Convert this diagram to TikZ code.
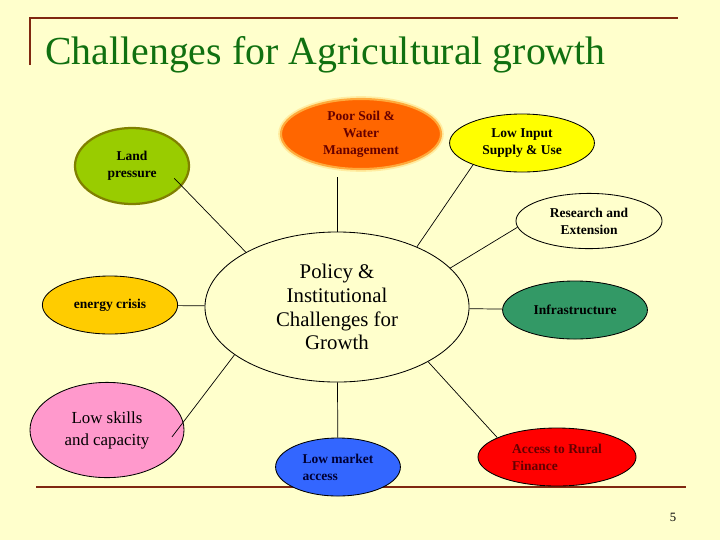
\documentclass[tikz,border=0pt]{standalone}
\usepackage{fontspec}
\setmainfont{Liberation Serif}
\usepackage{tikz}
\usetikzlibrary{shapes.geometric}

\definecolor{slidebg}{RGB}{255,255,204}
\definecolor{titlegreen}{RGB}{16,112,16}
\definecolor{rulebrown}{RGB}{128,40,16}
\definecolor{landgreen}{RGB}{153,204,0}
\definecolor{landolive}{RGB}{128,128,0}
\definecolor{soilorange}{RGB}{255,102,0}
\definecolor{soilglow}{RGB}{255,170,60}
\definecolor{soilhalo}{RGB}{255,236,160}
\definecolor{soiltext}{RGB}{102,0,0}
\definecolor{inputyellow}{RGB}{255,255,0}
\definecolor{energygold}{RGB}{255,204,0}
\definecolor{infragreen}{RGB}{51,153,102}
\definecolor{skillpink}{RGB}{255,153,204}
\definecolor{marketblue}{RGB}{51,102,255}
\definecolor{markettext}{RGB}{0,0,51}
\definecolor{financered}{RGB}{255,0,0}
\definecolor{financetext}{RGB}{100,0,0}

\begin{document}
\begin{tikzpicture}[x=0.025cm, y=-0.025cm,
		bubble_style/.style={ellipse,draw=black,line width=0.6pt,inner sep=0pt,align=center,font=\fontsize{9.6}{12.1}\selectfont\bfseries},
		hub_style/.style={ellipse,draw=black,line width=0.6pt,fill=slidebg,inner sep=0pt,align=center,font=\fontsize{14.8}{17}\selectfont},
		edge_style/.style={draw=black,line width=0.5pt},
		rule_style/.style={draw=rulebrown,line width=0.05cm}]

	\fill[slidebg] (0,0) rectangle (720,540);
	\useasboundingbox (0,0) rectangle (720,540);

	% slide frame and title
	\draw[rule_style] (30,65) -- (30,17.5) -- (678,17.5);
	\draw[rule_style, line width=0.07cm] (36,487) -- (686,487);
	\node[anchor=base west, inner sep=0pt, text=titlegreen, font=\fontsize{28.3}{34}\selectfont] (title) at (45,64) {Challenges for Agricultural growth};
	\node[anchor=base, inner sep=0pt, font=\fontsize{9}{11}\selectfont] (page) at (673,521) {5};

	\node[hub_style, minimum width=6.6cm, minimum height=3.75cm] (n0) at (337,307) {Policy \&\\Institutional\\Challenges for\\Growth};
	\node[bubble_style, fill=landgreen, draw=landolive, line width=1.6pt, minimum width=2.85cm, minimum height=1.9cm] (n1) at (132,166) {Land\\pressure};
	\node[bubble_style, fill=soilorange, draw=soilglow, line width=1.5pt, preaction={draw=soilhalo, line width=4pt}, text=soiltext, minimum width=4cm, minimum height=1.75cm] (n2) at (361,134) {Poor Soil \&\\Water\\Management};
	\node[bubble_style, fill=inputyellow, minimum width=3.62cm, minimum height=1.45cm] (n3) at (522,143) {Low Input\\Supply \& Use};
	\node[bubble_style, minimum width=3.65cm, minimum height=1.38cm] (n4) at (589,221) {Research and\\Extension};
	\node[bubble_style, fill=energygold, minimum width=3.38cm, minimum height=1.45cm] (n5) at (110,305) {energy crisis};
	\node[bubble_style, fill=infragreen, minimum width=3.62cm, minimum height=1.45cm] (n6) at (575,310) {Infrastructure};
	\node[bubble_style, fill=skillpink, font=\fontsize{12}{15.6}\selectfont, minimum width=3.85cm, minimum height=2.38cm] (n7) at (107,430) {Low skills\\and capacity};
	\node[bubble_style, fill=marketblue, text=markettext, align=left, minimum width=3.12cm, minimum height=1.45cm] (n8) at (338,467) {Low market\\access};
	\node[bubble_style, fill=financered, text=financetext, align=left, minimum width=3.95cm, minimum height=1.45cm] (n9) at (557,457) {Access to Rural\\Finance};

	\draw[edge_style]  (n1.-22) edge[shorten <=-0.27cm] node{} (n0.149);
	\draw[edge_style, shorten >=0.18cm]  (n0.north) -- (n0.north |- n2.south);
	\draw[edge_style]  (n3.204) edge node{} (n0.37);
	\draw[edge_style]  (n4.185) edge node{} (n0.19);
	\draw[edge_style]  (n5) edge node{} (n0);
	\draw[edge_style]  (n0) edge node{} (n6);
	\draw[edge_style]  (n7.6) edge[shorten <=-0.47cm] node{} (n0.205);
	\draw[edge_style]  (n0) edge node{} (n8);
	\draw[edge_style]  (n9.162) edge node{} (n0.-31);
\end{tikzpicture}
\end{document}
